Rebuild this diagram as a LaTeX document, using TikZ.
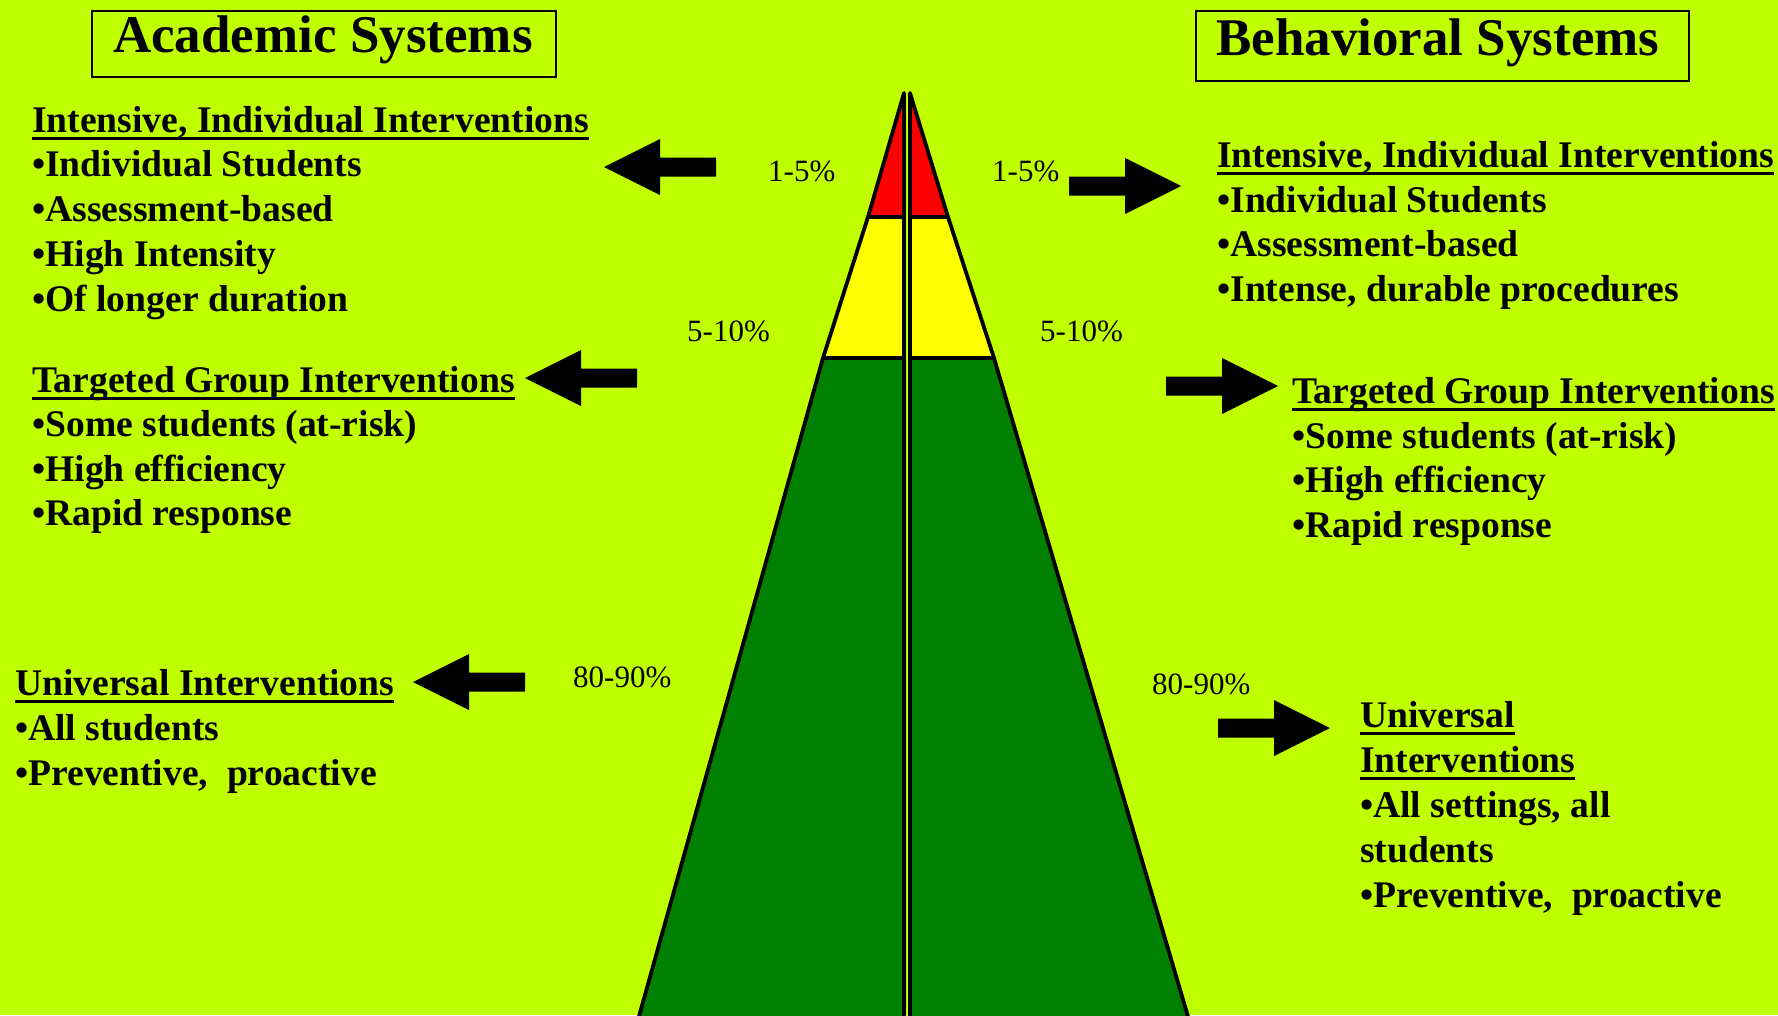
\documentclass[tikz,border=0pt]{standalone}
\usepackage{fontspec}
\setmainfont{Liberation Serif}
\definecolor{bgc}{RGB}{192,255,0}
\definecolor{pgreen}{RGB}{0,128,0}
\definecolor{pred}{RGB}{255,0,0}
\definecolor{pyellow}{RGB}{255,255,0}
\newcommand\ulbox[1]{\setbox0\hbox{#1}\rlap{\rule[-8pt]{\wd0}{3.5pt}}\box0}
\tikzset{
  txt/.style={anchor=base west, inner sep=0pt, font=\fontsize{37.6}{45}\selectfont\bfseries},
  pct/.style={anchor=base west, inner sep=0pt, font=\fontsize{31}{36}\selectfont},
  ttl/.style={anchor=base west, inner sep=0pt, font=\fontsize{53}{64}\selectfont\bfseries},
  tier/.style={draw=black, line width=3.8pt, line join=round},
  tbox/.style={draw=black, line width=2.2pt},
  larrow/.pic={\fill[black] (0,0) -- (56,-28) -- (56,-9.5) -- (112,-9.5) -- (112,9.5) -- (56,9.5) -- (56,28) -- cycle;},
  rarrow/.pic={\fill[black] (0,0) -- (-56,-28) -- (-56,-9.5) -- (-112,-9.5) -- (-112,9.5) -- (-56,9.5) -- (-56,28) -- cycle;}
}
\begin{document}
\begin{tikzpicture}[x=1pt,y=-1pt]
\useasboundingbox (0,0) rectangle (1778,1015);
\clip (0,0) rectangle (1778,1015);
\fill[bgc] (0,0) rectangle (1778,1015);

% pyramid, left half
\filldraw[tier, fill=pgreen] (823,358) -- (638,1020) -- (904,1020) -- (904,358) -- cycle;
\filldraw[tier, fill=pyellow] (868,217) -- (823,358) -- (904,358) -- (904,217) -- cycle;
\filldraw[tier, fill=pred] (904,93) -- (868,217) -- (904,217) -- cycle;
% pyramid, right half
\filldraw[tier, fill=pgreen] (994,358) -- (1189,1020) -- (910,1020) -- (910,358) -- cycle;
\filldraw[tier, fill=pyellow] (948,217) -- (994,358) -- (910,358) -- (910,217) -- cycle;
\filldraw[tier, fill=pred] (910,93) -- (948,217) -- (910,217) -- cycle;

% titles
\draw[tbox] (92,11) rectangle (556,77);
\node[ttl] (tA) at (113,52) {Academic Systems};
\draw[tbox] (1196,11) rectangle (1689,81);
\node[ttl] (tB) at (1216,55) {Behavioral Systems};

% percentages
\node[pct] (pL1) at (768,181) {1-5\%};
\node[pct] (pR1) at (992,181) {1-5\%};
\node[pct] (pL2) at (687,341) {5-10\%};
\node[pct] (pR2) at (1040,341) {5-10\%};
\node[pct] (pL3) at (573,687) {80-90\%};
\node[pct] (pR3) at (1152,694) {80-90\%};

% arrows
\pic at (604,167) {larrow};
\pic at (525,378) {larrow};
\pic at (413,682) {larrow};
\pic at (1181,186) {rarrow};
\pic at (1278,386) {rarrow};
\pic at (1330,728) {rarrow};

% left block 1
\node[txt] (a1) at (32,132) {\ulbox{Intensive, Individual Interventions}};
\node[txt] (a2) at (32,176.75) {•Individual Students};
\node[txt] (a3) at (32,221.5) {•Assessment-based};
\node[txt] (a4) at (32,266.25) {•High Intensity};
\node[txt] (a5) at (32,311) {•Of longer duration};
% left block 2
\node[txt] (b1) at (32,392) {\ulbox{Targeted Group Interventions}};
\node[txt] (b2) at (32,436.5) {•Some students (at-risk)};
\node[txt] (b3) at (32,481) {•High efficiency};
\node[txt] (b4) at (32,525.5) {•Rapid response};
% left block 3
\node[txt] (c1) at (15,695) {\ulbox{Universal Interventions}};
\node[txt] (c2) at (15,740) {•All students};
\node[txt] (c3) at (15,785) {•Preventive,~~proactive};

% right block 1
\node[txt] (d1) at (1217,167) {\ulbox{Intensive, Individual Interventions}};
\node[txt] (d2) at (1217,212) {•Individual Students};
\node[txt] (d3) at (1217,256.5) {•Assessment-based};
\node[txt] (d4) at (1217,301) {•Intense, durable procedures};
% right block 2
\node[txt] (e1) at (1292,403) {\ulbox{Targeted Group Interventions}};
\node[txt] (e2) at (1292,448) {•Some students (at-risk)};
\node[txt] (e3) at (1292,492.5) {•High efficiency};
\node[txt] (e4) at (1292,537) {•Rapid response};
% right block 3
\node[txt] (f1) at (1360,727) {\ulbox{Universal}};
\node[txt] (f2) at (1360,772) {\ulbox{Interventions}};
\node[txt] (f3) at (1360,817) {•All settings, all};
\node[txt] (f4) at (1360,862) {students};
\node[txt] (f5) at (1360,907) {•Preventive,~~proactive};
\end{tikzpicture}
\end{document}
